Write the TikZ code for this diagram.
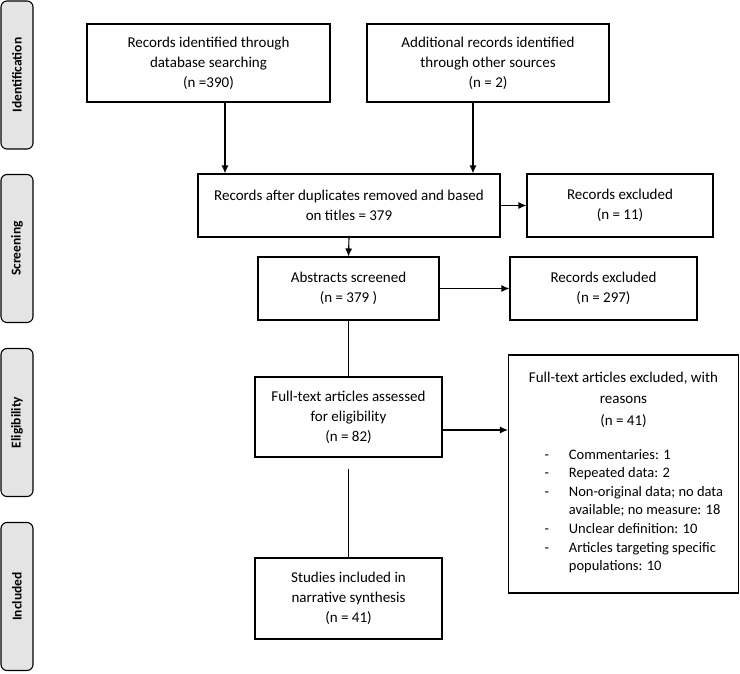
\documentclass[tikz,border=0pt]{standalone}
\usepackage{fontspec}
\setmainfont{Carlito}
\usetikzlibrary{arrows.meta}
\definecolor{phasegray}{HTML}{E4E4E4}
\tikzset{
  box/.style={draw, line width=1.1pt, align=center, inner sep=3pt, font=\fontsize{15}{20}\selectfont},
  phase/.style={draw, line width=1.1pt, rounded corners=6pt, fill=phasegray, rotate=90,
    minimum width=148, minimum height=32, font=\bfseries\fontsize{13.5}{15}\selectfont},
  flow/.style={line width=1.1pt, -{Latex[length=8pt,width=7pt]}},
  link/.style={line width=1.1pt},
}
\begin{document}
\begin{tikzpicture}[x=1pt, y=-1pt]
    \useasboundingbox (0,0) rectangle (740,673);

    % Phase labels on the left
    \node[phase] (idph) at (17,75) {Identification};
    \node[phase] (scph) at (17,248.5) {Screening};
    \node[phase] (elph) at (17,422.5) {Eligibility};
    \node[phase] (inph) at (17,596.5) {Included};

    % Identification
    \node[box, minimum width=243, minimum height=78] (db) at (208.5,63) {Records identified through\\ database searching\\ (n =390)};
    \node[box, minimum width=242, minimum height=78] (other) at (488,63) {Additional records identified\\ through other sources\\ (n = 2)};

    % Screening
    \node[box, minimum width=302, minimum height=63] (dup) at (349,205.5) {Records after duplicates removed and based\\ on titles = 379};
    \node[box, minimum width=186, minimum height=63] (exA) at (620,205.5) {Records excluded\\ (n = 11)};
    \node[box, minimum width=181, minimum height=63] (abs) at (348.5,288.5) {Abstracts screened\\ (n = 379 )};
    \node[box, minimum width=187, minimum height=63] (exB) at (603.5,288.5) {Records excluded\\ (n = 297)};

    % Eligibility
    \node[box, minimum width=230, minimum height=238] (exC) at (623.5,474) {%
      \begin{minipage}{224pt}\centering\fontsize{15}{21}\selectfont
        Full-text articles excluded, with\\ reasons\\[1pt] (n = 41)\par\vspace{18pt}
        \raggedright\fontsize{14.5}{18.6}\selectfont
        \begin{tabular}{@{\hspace{33pt}}l@{\hspace{20pt}}l@{}}
          - & Commentaries: 1\\
          - & Repeated data: 2\\
          - & Non-original data; no data\\
            & available; no measure: 18\\
          - & Unclear definition: 10\\
          - & Articles targeting specific\\
            & populations: 10
        \end{tabular}
      \end{minipage}};
    \node[box, minimum width=187, minimum height=80] (full) at (348.5,417) {Full-text articles assessed\\ for eligibility\\ (n = 82)};

    % Included
    \node[box, minimum width=187, minimum height=81] (inc) at (348.5,598.5) {Studies included in\\ narrative synthesis\\ (n = 41)};

    % Connectors
    \draw[flow] ([xshift=16.5pt]db.south) -- ([xshift=16.5pt]db.south |- dup.north);
    \draw[flow] ([xshift=-15pt]other.south) -- ([xshift=-15pt]other.south |- dup.north);
    \draw[flow] (dup.east) -- (exA.west);
    \draw[flow] (dup.south) -- (abs.north);
    \draw[flow] (abs.east) -- (abs.east -| exB.west);
    \draw[link] (abs.south) -- (full.north);
    \draw[flow] ([yshift=-13pt]full.east) -- ([yshift=-13pt]full.east -| exC.west);
    \draw[link, shorten <=11pt] (full.south) -- (inc.north);
\end{tikzpicture}
\end{document}
